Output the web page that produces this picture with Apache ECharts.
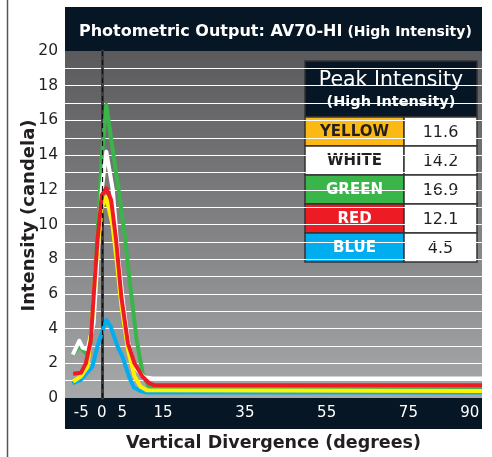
<!DOCTYPE html>
<html>
<head>
<meta charset="utf-8">
<script src="https://cdn.jsdelivr.net/npm/echarts@6/dist/echarts.min.js"></script>
<style>
  html, body { margin: 0; padding: 0; background: #fff; }
  #chart { width: 492px; height: 457px; }
</style>
</head>
<body>
<div id="chart"></div>
<script>
const FONT = 'DejaVu Sans'
const NAVY = '#061624'

// x tick labels (degrees)
const xLabels = [-5, 0, 5, 15, 35, 55, 75, 90]

// [degrees, candela]
const greenData = [[-7.1, 2.5], [-5.5, 3.0], [-4.0, 2.6], [-2.7, 3.2], [-1.9, 6.2], [-0.9, 10.1], [0, 13.9], [1.1, 16.9], [2.5, 14.6], [4.0, 12.2], [5.5, 9.6], [7.0, 6.4], [8.5, 3.4], [10.0, 1.4], [11.4, 0.7], [13, 0.5], [93, 0.5]]
const whiteData = [[-7.1, 2.5], [-5.5, 3.3], [-4.7, 2.9], [-3.5, 2.8], [-2.0, 4.3], [-1.05, 8.1], [0, 12.0], [1.1, 14.2], [2.7, 12.0], [4.0, 8.1], [5.3, 5.3], [6.5, 3.15], [8.0, 1.8], [10.3, 1.2], [12.4, 1.13], [93, 1.13]]
const yellowData = [[-7.0, 0.95], [-5.1, 1.25], [-3.5, 1.8], [-2.5, 4.0], [-1.5, 7.5], [0, 11.0], [1.1, 11.6], [2.6, 10.0], [3.7, 7.8], [4.8, 5.3], [6.4, 2.8], [8.0, 1.25], [9.5, 0.65], [11, 0.45], [93, 0.4]]
const redData = [[-7.0, 1.4], [-5.1, 1.45], [-3.9, 2.0], [-2.7, 3.3], [-1.9, 6.2], [-1.05, 9.1], [0, 11.7], [1.1, 12.1], [2.3, 11.4], [3.5, 9.1], [4.8, 5.8], [6.4, 3.15], [8.0, 2.0], [9.9, 1.25], [11.6, 0.85], [13, 0.73], [93, 0.73]]
const blueData = [[-7.2, 0.85], [-5.1, 1.05], [-2.3, 1.8], [-1.05, 3.0], [0.2, 3.9], [1.1, 4.5], [2.2, 4.1], [3.8, 3.0], [5.1, 2.35], [6.7, 1.2], [7.9, 0.6], [9.5, 0.4], [11, 0.32], [93, 0.32]]

// peak table
const tableNames = ['YELLOW', 'WHITE', 'GREEN', 'RED', 'BLUE']
const peakValues = [11.6, 14.2, 16.9, 12.1, 4.5]
const cellColors = ['#fdb913', '#ffffff', '#3ab54a', '#ed1c24', '#00aeef']
const cellText = ['#231f20', '#231f20', '#ffffff', '#ffffff', '#ffffff']

const chart = echarts.init(document.getElementById('chart'))

// build the peak table out of plain rects/texts
const tX = 305, tW = 172, splitX = 404, headTop = 61, headH = 56, rowH = 29
const tableEls = [
  { type: 'rect', shape: { x: tX, y: headTop, width: tW, height: headH }, style: { fill: NAVY, stroke: '#333', lineWidth: 1.5 } },
  { type: 'text', x: tX + tW / 2, y: 81, style: { text: 'Peak Intensity', fill: '#fff', font: '20.5px ' + FONT, align: 'center', verticalAlign: 'middle' } },
  { type: 'text', x: tX + tW / 2, y: 102, style: { text: '(High Intensity)', fill: '#fff', font: 'bold 14.5px ' + FONT, align: 'center', verticalAlign: 'middle' } }
]
tableNames.forEach((name, i) => {
  const y = headTop + headH + i * rowH
  tableEls.push(
    { type: 'rect', shape: { x: tX, y: y, width: splitX - tX, height: rowH }, style: { fill: cellColors[i], stroke: '#333', lineWidth: 1.5 } },
    { type: 'rect', shape: { x: splitX, y: y, width: tX + tW - splitX, height: rowH }, style: { fill: '#fff', stroke: '#333', lineWidth: 1.5 } },
    { type: 'text', x: (tX + splitX) / 2, y: y + rowH / 2 + 1, style: { text: name, fill: cellText[i], font: 'bold 15px ' + FONT, align: 'center', verticalAlign: 'middle' } },
    { type: 'text', x: (splitX + tX + tW) / 2, y: y + rowH / 2 + 1, style: { text: peakValues[i].toFixed(1), fill: '#231f20', font: '16px ' + FONT, align: 'center', verticalAlign: 'middle' } }
  )
})

const lineSeries = (name, data, color) => ({
  name,
  type: 'line',
  data,
  showSymbol: false,
  silent: true,
  lineStyle: { color, width: 4, join: 'round' },
  itemStyle: { color }
})

const option = {
  backgroundColor: '#fff',
  animation: false,
  title: {
    text: '{a|Photometric Output: AV70-HI} {b|(High Intensity)}',
    left: 74,
    top: 16,
    textStyle: {
      rich: {
        a: { color: '#fff', fontFamily: FONT, fontWeight: 'bold', fontSize: 16, lineHeight: 22 },
        b: { color: '#fff', fontFamily: FONT, fontWeight: 'bold', fontSize: 14, lineHeight: 22 }
      }
    }
  },
  grid: {
    left: 65,
    right: 10,
    top: 51,
    bottom: 59,
    show: true,
    borderWidth: 0,
    backgroundColor: new echarts.graphic.LinearGradient(0, 0, 0, 1, [
      { offset: 0, color: '#5a5a5c' },
      { offset: 1, color: '#a7a8aa' }
    ])
  },
  xAxis: {
    type: 'value',
    min: -9,
    max: 93,
    axisLine: { show: false },
    axisTick: { show: false },
    splitLine: { show: false },
    axisLabel: { customValues: xLabels, color: '#fff', fontSize: 15, fontFamily: FONT, margin: 8 },
    name: 'Vertical Divergence (degrees)',
    nameLocation: 'middle',
    nameGap: 36,
    nameMoveOverlap: false,
    nameTextStyle: { color: '#231f20', fontSize: 17.5, fontWeight: 'bold', fontFamily: FONT }
  },
  yAxis: {
    type: 'value',
    min: 0,
    max: 20,
    interval: 1,
    axisLine: { show: true, lineStyle: { color: '#3e3e40', width: 3 } },
    axisTick: { show: false },
    axisLabel: {
      formatter: v => (v % 2 === 0 ? String(v) : ''),
      color: '#231f20', fontSize: 15.5, fontFamily: FONT, margin: 7
    },
    splitLine: { show: true, showMinLine: false, showMaxLine: false, lineStyle: { color: '#ffffff', width: 1.2 } },
    name: 'Intensity (candela)',
    nameLocation: 'middle',
    nameGap: 27,
    nameMoveOverlap: false,
    nameTextStyle: { color: '#231f20', fontSize: 18, fontWeight: 'bold', fontFamily: FONT, padding: [0, 0, 0, 18] }
  },
  graphic: [
    { type: 'line', shape: { x1: 7.5, y1: 0, x2: 7.5, y2: 457 }, style: { stroke: '#555', lineWidth: 1.5 }, z: 0 },
    { type: 'rect', shape: { x: 65, y: 7, width: 417, height: 44 }, style: { fill: NAVY }, z: 0 },
    { type: 'rect', shape: { x: 65, y: 398, width: 417, height: 31 }, style: { fill: NAVY }, z: 0 },
    { type: 'group', children: tableEls, z: 20 }
  ],
  series: [
    Object.assign(lineSeries('GREEN', greenData, '#39b54a'), {
      markLine: {
        silent: true,
        symbol: 'none',
        label: { show: false },
        lineStyle: { color: '#111', type: [5, 4], width: 1.2 },
        data: [{ xAxis: 0 }]
      }
    }),
    lineSeries('WHITE', whiteData, '#ffffff'),
    lineSeries('BLUE', blueData, '#00aeef'),
    lineSeries('YELLOW', yellowData, '#fff200'),
    lineSeries('RED', redData, '#ed1c24')
  ]
}

chart.setOption(option)
</script>
</body>
</html>
